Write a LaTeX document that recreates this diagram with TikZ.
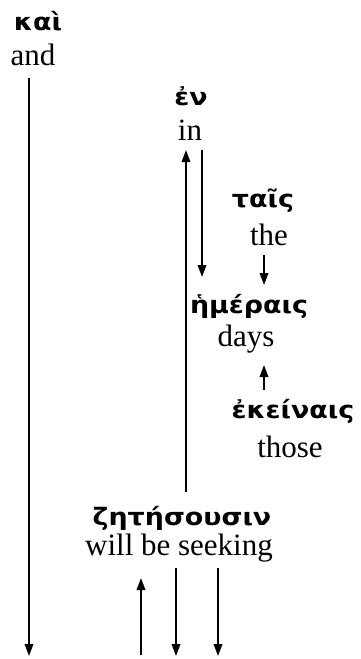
\documentclass[tikz,border=0pt]{standalone}
\usepackage{fontspec}
\setmainfont{Liberation Serif}
\newfontfamily\greekfont[FakeStretch=1.12]{DejaVu Sans}
\usetikzlibrary{arrows.meta}
\tikzset{
  greek/.style={anchor=base, inner sep=0pt, font=\greekfont\bfseries\fontsize{24}{30}\selectfont},
  gloss/.style={anchor=base, inner sep=0pt, font=\fontsize{31}{36}\selectfont},
  link/.style={-{Triangle[length=12pt,width=8.5pt]}, line width=1.9pt}
}

\begin{document}
\begin{tikzpicture}[x=1pt, y=-1pt]
    \useasboundingbox (0,0) rectangle (360,659);
    % Words and glosses
    \node[greek] (kai) at (38,30) {καὶ};
    \node[gloss] (and) at (33,65) {and};
    \node[greek] (en) at (191,105) {ἐν};
    \node[gloss] (in) at (190,140) {in};
    \node[greek] (tais) at (263,207) {ταῖς};
    \node[gloss] (the) at (269,245) {the};
    \node[greek] (hemerais) at (249,313) {ἡμέραις};
    \node[gloss] (days) at (246,346) {days};
    \node[greek] (ekeinais) at (293,418) {ἐκείναις};
    \node[gloss] (those) at (290,457) {those};
    \node[greek] (zetesousin) at (182,525) {ζητήσουσιν};
    \node[gloss] (seeking) at (179,555) {will be seeking};

    % Free ends at the bottom
    \coordinate (kaiEnd) at (29,656);
    \coordinate (subjStart) at (141,655);
    \coordinate (objEnd) at (176,656);
    \coordinate (advEnd) at (218,656);

    % Links
    \draw[link] ([xshift=-4pt,yshift=-13pt]and.base) -- (kaiEnd);
    \draw[link] ([xshift=4pt,yshift=33pt]zetesousin.base) -- ([xshift=-4pt,yshift=-10pt]in.base);
    \draw[link] ([xshift=12pt,yshift=-10pt]in.base) -- ([xshift=-47pt,yshift=36pt]hemerais.base);
    \draw[link] ([xshift=-5pt,yshift=-10pt]the.base) -- ([xshift=15pt,yshift=28pt]hemerais.base);
    \draw[link] ([xshift=-29pt,yshift=28pt]ekeinais.base) -- ([xshift=15pt,yshift=-52pt]hemerais.base);
    \draw[link] (subjStart) -- ([xshift=-38pt,yshift=-23pt]seeking.base);
    \draw[link] ([xshift=-3pt,yshift=-13pt]seeking.base) -- (objEnd);
    \draw[link] ([xshift=39pt,yshift=-13pt]seeking.base) -- (advEnd);
\end{tikzpicture}
\end{document}
